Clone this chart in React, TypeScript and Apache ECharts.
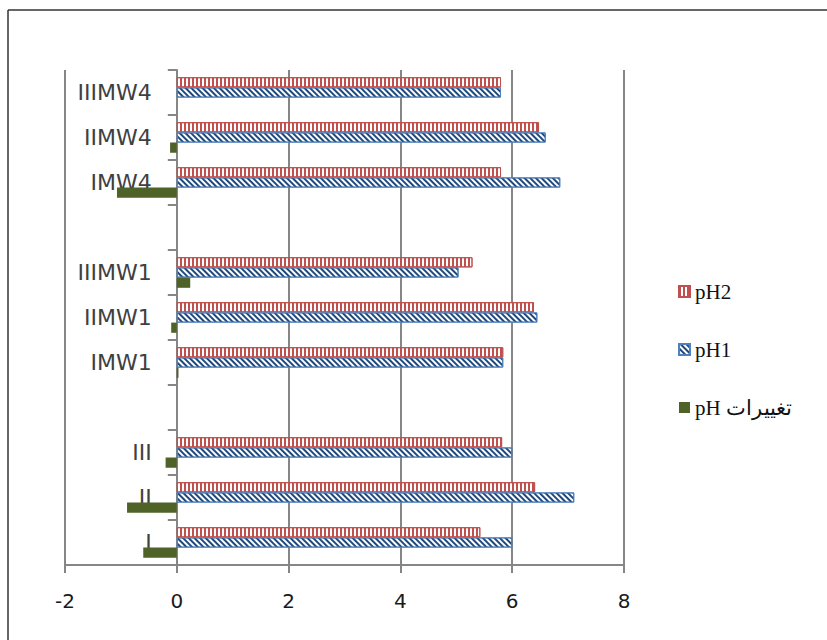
import React, { useEffect, useRef } from "react";
import * as echarts from "echarts";

const categories = ["I", "II", "III", "", "IMW1", "IIMW1", "IIIMW1", "", "IMW4", "IIMW4", "IIIMW4"];
const changeName = "pH تغییرات";
const phChange = [-0.6, -0.89, -0.2, null, 0.03, -0.1, 0.24, null, -1.07, -0.12, 0];
const ph1 = [6.0, 7.11, 6.0, null, 5.84, 6.45, 5.04, null, 6.86, 6.6, 5.8];
const ph2 = [5.43, 6.41, 5.82, null, 5.84, 6.39, 5.29, null, 5.8, 6.48, 5.8];
const xTicks = { min: -2, max: 8, interval: 2 };

export default function App() {
  const ref = useRef<HTMLDivElement>(null);
  useEffect(() => {
    if (!ref.current) return;
    const chart = echarts.init(ref.current, undefined, { renderer: "svg" });
    const gridLeft = 65;
    const gridRight = 203;
    const plotW = 827 - gridLeft - gridRight;
    const zeroOffset = (plotW * (0 - xTicks.min)) / (xTicks.max - xTicks.min);
    chart.setOption({
      animation: false,
      backgroundColor: "#ffffff",
      graphic: [
        { type: "line", shape: { x1: 8, y1: 10, x2: 827, y2: 10 }, style: { stroke: "#333", lineWidth: 1.5 } },
        { type: "line", shape: { x1: 8, y1: 10, x2: 8, y2: 640 }, style: { stroke: "#333", lineWidth: 1.5 } },
      ],
      grid: { left: gridLeft, right: gridRight, top: 70, bottom: 75, containLabel: false, outerBoundsMode: "none" },
      legend: {
        orient: "vertical",
        left: 673,
        top: 276,
        itemWidth: 11,
        itemHeight: 11,
        itemGap: 37,
        icon: "rect",
        data: ["pH2", "pH1", changeName],
        textStyle: { fontFamily: "Liberation Serif", fontSize: 21, color: "#111" },
      },
      xAxis: {
        type: "value",
        min: xTicks.min,
        max: xTicks.max,
        interval: xTicks.interval,
        axisLine: { show: true, lineStyle: { color: "#868686", width: 2 } },
        axisTick: { show: true, length: 8, lineStyle: { color: "#868686", width: 2 } },
        axisLabel: { margin: 26, fontFamily: "DejaVu Sans", fontSize: 20, color: "#1a1a1a" },
        splitLine: { show: true, lineStyle: { color: "#868686", width: 2 } },
      },
      yAxis: {
        type: "category",
        data: categories,
        offset: -zeroOffset,
        axisLine: { show: true, onZero: false, lineStyle: { color: "#868686", width: 2 } },
        axisTick: { show: true, length: 9, lineStyle: { color: "#868686", width: 2 } },
        axisLabel: { margin: 25, fontFamily: "DejaVu Sans", fontSize: 22, color: "#404040" },
        splitLine: { show: false },
      },
      series: [
        {
          name: "pH2",
          type: "bar",
          data: ph2,
          barGap: "0%",
          barCategoryGap: "32%",
          itemStyle: {
            color: "#ffffff",
            borderColor: "#C0504D",
            borderWidth: 1,
            decal: {
              symbol: "rect",
              color: "#C0504D",
              dashArrayX: [1.5, 2],
              dashArrayY: [4, 0],
              symbolSize: 1,
              rotation: 0,
            },
          },
        },
        {
          name: "pH1",
          type: "bar",
          data: ph1,
          barGap: "0%",
          barCategoryGap: "32%",
          itemStyle: {
            color: "#ffffff",
            borderColor: "#4F81BD",
            borderWidth: 1,
            decal: {
              symbol: "rect",
              color: "#1F497D",
              dashArrayX: [2, 2],
              dashArrayY: [4, 0],
              symbolSize: 1,
              rotation: -Math.PI / 4,
            },
          },
        },
        {
          name: changeName,
          type: "bar",
          data: phChange,
          barGap: "0%",
          barCategoryGap: "32%",
          itemStyle: { color: "#4F6228" },
        },
      ],
    });
    return () => chart.dispose();
  }, []);
  return (
    <div
      ref={ref}
      style={{ position: "absolute", left: 0, top: 0, width: 827, height: 640 }}
    />
  );
}
